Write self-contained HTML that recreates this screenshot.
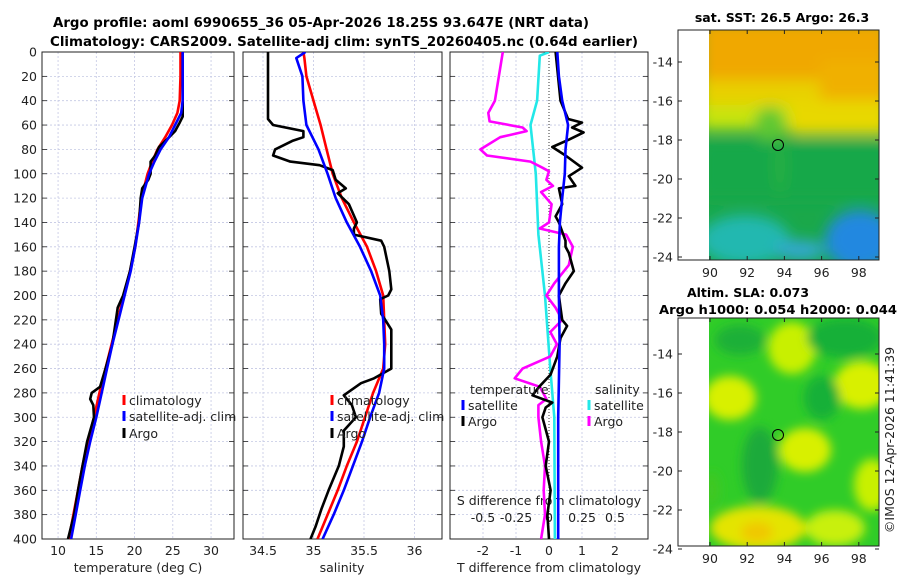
<!DOCTYPE html>
<html><head><meta charset="utf-8"><style>
html,body{margin:0;padding:0;background:#fff;}
svg{display:block;font-family:"DejaVu Sans","Liberation Sans",sans-serif;}
</style></head><body>
<svg id="fig" width="900" height="580" viewBox="0 0 900 580" xmlns="http://www.w3.org/2000/svg">
<defs>
<clipPath id="c1"><rect x="42" y="52" width="192" height="487"/></clipPath>
<clipPath id="c2"><rect x="243" y="52" width="199" height="487"/></clipPath>
<clipPath id="c3"><rect x="450" y="52" width="198" height="487"/></clipPath>
<clipPath id="m1"><rect x="709" y="30" width="170" height="230"/></clipPath>
<clipPath id="m2"><rect x="709" y="318" width="170" height="228"/></clipPath>
<filter id="bl" x="-50%" y="-50%" width="200%" height="200%"><feGaussianBlur stdDeviation="7"/></filter>
<filter id="bl2" x="-50%" y="-50%" width="200%" height="200%"><feGaussianBlur stdDeviation="5"/></filter>
</defs>
<text x="321" y="27" font-size="13" font-weight="bold" text-anchor="middle" textLength="536" lengthAdjust="spacingAndGlyphs">Argo profile: aoml 6990655_36 05-Apr-2026 18.25S 93.647E (NRT data)</text>
<text x="344" y="46" font-size="13" font-weight="bold" text-anchor="middle" textLength="588" lengthAdjust="spacingAndGlyphs">Climatology: CARS2009. Satellite-adj clim: synTS_20260405.nc (0.64d earlier)</text>

<g id="maps">
<g>
<rect x="678" y="30" width="201" height="230" fill="#fff"/>
<g clip-path="url(#m1)">
<rect x="709" y="30" width="170" height="230" fill="#1aa84a"/>
<g filter="url(#bl)">
<rect x="700" y="20" width="190" height="65" fill="#f0a800"/>
<rect x="700" y="80" width="190" height="30" fill="#e8d000"/>
<rect x="820" y="60" width="70" height="70" fill="#f0b000"/>
<rect x="700" y="105" width="90" height="25" fill="#c8e410"/>
<rect x="790" y="100" width="100" height="35" fill="#e8d800"/>
<ellipse cx="770" cy="125" rx="16" ry="18" fill="#60c830"/>
<rect x="700" y="140" width="190" height="60" fill="#14a848"/>
<ellipse cx="745" cy="240" rx="45" ry="25" fill="#20b8b0"/>
<ellipse cx="860" cy="240" rx="35" ry="30" fill="#2088e0"/>
<ellipse cx="800" cy="250" rx="25" ry="10" fill="#30a8d0"/>
<ellipse cx="780" cy="165" rx="6" ry="30" fill="#28b040"/>
</g>
</g>
<rect x="678" y="30" width="201" height="230" fill="none" stroke="#222" stroke-width="1"/>
<circle cx="778" cy="145" r="5.5" fill="none" stroke="#000" stroke-width="1"/>
</g>
<g>
<rect x="678" y="318" width="201" height="228" fill="#fff"/>
<g clip-path="url(#m2)">
<rect x="709" y="318" width="170" height="228" fill="#30cc28"/>
<g filter="url(#bl2)">
<ellipse cx="792" cy="348" rx="24" ry="26" fill="#c8f000"/>
<ellipse cx="730" cy="398" rx="26" ry="22" fill="#d8f000"/>
<ellipse cx="862" cy="385" rx="28" ry="24" fill="#d8f000"/>
<ellipse cx="805" cy="450" rx="26" ry="22" fill="#d8f000"/>
<ellipse cx="872" cy="485" rx="18" ry="26" fill="#c8f000"/>
<ellipse cx="758" cy="528" rx="48" ry="22" fill="#e4e400"/>
<ellipse cx="835" cy="528" rx="30" ry="18" fill="#c8f010"/>
<ellipse cx="757" cy="532" rx="16" ry="10" fill="#f0c800"/>
<ellipse cx="845" cy="338" rx="38" ry="20" fill="#14b038"/>
<ellipse cx="760" cy="465" rx="18" ry="38" fill="#1aaa3a"/>
<ellipse cx="822" cy="398" rx="18" ry="22" fill="#18b038"/>
<ellipse cx="740" cy="340" rx="25" ry="15" fill="#1cb038"/>
<ellipse cx="712" cy="490" rx="8" ry="18" fill="#40c820"/>
</g>
</g>
<rect x="678" y="318" width="201" height="228" fill="none" stroke="#222" stroke-width="1"/>
<circle cx="778" cy="435" r="5.5" fill="none" stroke="#000" stroke-width="1"/>
</g>
<text x="782" y="22" font-size="12.5" font-weight="bold" text-anchor="middle">sat. SST: 26.5 Argo: 26.3</text>
<text x="748" y="297" font-size="12.5" font-weight="bold" text-anchor="middle">Altim. SLA: 0.073</text>
<text x="778" y="314" font-size="12.5" font-weight="bold" text-anchor="middle" textLength="238" lengthAdjust="spacingAndGlyphs">Argo h1000: 0.054 h2000: 0.044</text>
<text transform="translate(894,440) rotate(-90)" font-size="12.5" text-anchor="middle" fill="#222">©IMOS 12-Apr-2026 11:41:39</text>
</g>
<g id="dyn"></g>
</svg>
<script>
// ---------- data ----------
const depthTicks = [0,20,40,60,80,100,120,140,160,180,200,220,240,260,280,300,320,340,360,380,400];
const tempTicks = [10,15,20,25,30];
const salTicks = [34.5,35,35.5,36];
const tdiffTicks = [-2,-1,0,1,2];
const sdiffTickLabels = ["-0.5","-0.25","0","0.25","0.5"];
const sdiffTicks = [-0.5,-0.25,0,0.25,0.5];
const latTicks = [-14,-16,-18,-20,-22,-24];
const lonTicks = [90,92,94,96,98];

const climDepth = [0,20,40,50,60,70,80,90,100,120,140,160,180,200,220,240,260,280,300,320,340,360,380,400];
const climTemp  = [26.0,26.0,25.9,25.6,24.9,24.0,23.0,22.3,21.7,20.9,20.5,20.1,19.4,18.6,17.8,17.0,16.2,15.4,14.7,13.9,13.2,12.6,12.0,11.4];
const satTemp   = [26.3,26.3,26.3,26.1,25.3,24.5,23.4,22.6,21.9,21.0,20.6,20.1,19.5,18.7,17.9,17.1,16.4,15.7,15.0,14.2,13.5,12.9,12.3,11.7];
const argoTDepth = [0,53,58,65,72,78,85,90,100,105,112,120,140,160,180,200,210,240,260,275,280,285,290,300,320,340,360,380,400];
const argoTemp   = [26.3,26.3,25.9,25.3,24.2,23.2,22.7,22.1,22.1,21.8,21.0,20.8,20.6,20.0,19.4,18.5,17.8,17.1,16.2,15.5,14.4,14.2,14.6,14.7,13.8,13.2,12.6,12.1,11.3];

const salDepth = [0,5,20,40,60,80,100,120,140,160,180,200,220,240,260,280,300,320,340,360,380,400];
const climSal  = [34.9,34.91,34.93,35.0,35.07,35.13,35.19,35.28,35.4,35.53,35.62,35.69,35.7,35.71,35.69,35.59,35.51,35.43,35.33,35.24,35.14,35.04];
const satSal   = [34.92,34.83,34.89,34.9,34.93,35.05,35.14,35.22,35.33,35.46,35.57,35.66,35.69,35.7,35.7,35.65,35.56,35.48,35.39,35.3,35.2,35.09];
const argoSDepth = [0,55,60,65,70,73,80,85,90,93,97,105,112,116,125,140,145,150,155,160,180,195,200,203,215,220,228,260,268,272,282,290,300,311,324,340,360,375,390,400];
const argoSal    = [34.55,34.55,34.6,34.9,34.9,34.79,34.62,34.6,34.77,35.06,35.19,35.22,35.32,35.24,35.35,35.43,35.4,35.4,35.67,35.7,35.75,35.77,35.74,35.66,35.67,35.71,35.77,35.77,35.6,35.47,35.3,35.38,35.42,35.3,35.3,35.25,35.15,35.08,35.02,34.97];

const diffDepth = [0,20,40,60,80,100,120,140,160,200,240,300,400];
const satTdiff  = [0.25,0.3,0.4,0.58,0.5,0.48,0.4,0.33,0.3,0.3,0.32,0.28,0.28];
const satSdiffDepth = [0,3,40,60,100,150,200,260,300,400];
const satSdiff  = [0.0,-0.07,-0.09,-0.14,-0.1,-0.08,-0.03,0.01,0.04,0.045];
const argoTdiffDepth = [0,40,55,58,62,66,72,78,85,95,102,110,112,125,135,140,155,160,165,180,190,200,210,220,225,235,250,265,275,282,288,292,300,320,340,360,380,400];
const argoTdiff = [0.2,0.35,0.58,1.0,0.7,1.05,0.6,0.1,0.5,1.0,0.6,0.8,0.3,0.4,0.2,0.3,0.5,0.5,0.6,0.75,0.5,0.3,0.35,0.4,0.55,0.35,0.25,0.05,-0.3,-0.5,0.1,-0.1,-0.2,0.0,-0.1,0.05,-0.05,0.0];
const argoSdiffDepth = [0,40,50,57,62,65,70,80,85,90,95,98,105,110,115,125,140,145,150,160,175,190,200,210,220,230,240,250,260,268,275,285,290,300,320,340,360,380,400];
const argoSdiff = [-0.35,-0.41,-0.46,-0.45,-0.2,-0.17,-0.37,-0.52,-0.47,-0.14,-0.05,0.0,-0.02,0.03,-0.06,0.02,0.0,-0.07,0.13,0.18,0.15,0.04,-0.02,0.05,0.1,0.01,0.06,0.01,-0.2,-0.26,-0.07,-0.02,-0.08,-0.08,-0.06,-0.03,-0.04,-0.03,-0.06];

// ---------- axes ----------
const Y0=52, Y1=539;
const yD = d => Y0 + d/400*(Y1-Y0);
const xT = t => 42 + (t-7.9)/(33-7.9)*192;
const xS = s => 263 + (s-34.5)*101;
const xTd = v => 549 + v*33;
const xSd = v => 549 + v*132;
const mapX = lon => 710 + (lon-90)*18.6;
const map1Y = lat => 62 + (-14-lat)*19.5;
const map2Y = lat => 354 + (-14-lat)*19.5;

const NS="http://www.w3.org/2000/svg";
const root=document.getElementById('dyn');
function mk(tag, attrs, parent){const e=document.createElementNS(NS,tag);for(const k in attrs)e.setAttribute(k,attrs[k]);(parent||root).appendChild(e);return e;}
function txt(s,x,y,size,anchor,parent){const e=mk('text',{x:x,y:y,'font-size':size,'text-anchor':anchor||'middle',fill:'#222'},parent);e.textContent=s;return e;}

const panels=[{x0:42,x1:234,clip:'c1',name:'temperature-panel'},{x0:243,x1:442,clip:'c2',name:'salinity-panel'},{x0:450,x1:648,clip:'c3',name:'difference-panel'}];
const vgrids=[tempTicks.map(xT),salTicks.map(xS),tdiffTicks.filter(v=>v!==0).map(xTd)];
panels.forEach((p,i)=>{
  const g=mk('g',{});
  
  
  depthTicks.forEach(d=>{ if(d>0&&d<400) mk('line',{x1:p.x0,x2:p.x1,y1:yD(d),y2:yD(d),stroke:'#c4c8e4','stroke-width':0.8,'stroke-dasharray':'2,2'},g);
    mk('line',{x1:p.x0,x2:p.x0+5,y1:yD(d),y2:yD(d),stroke:'#222','stroke-width':0.8},g);
    mk('line',{x1:p.x1-5,x2:p.x1,y1:yD(d),y2:yD(d),stroke:'#222','stroke-width':0.8},g);});
  vgrids[i].forEach(x=>{mk('line',{x1:x,x2:x,y1:Y0,y2:Y1,stroke:'#c4c8e4','stroke-width':0.8,'stroke-dasharray':'2,2'},g);});
  mk('rect',{x:p.x0,y:Y0,width:p.x1-p.x0,height:Y1-Y0,fill:'none',stroke:'#222','stroke-width':1},g);
  p.g=g;
});
depthTicks.forEach(d=>{const t=txt(String(d),37,yD(d)+4.5,12.5,'end');
  
  });
tempTicks.forEach(v=>{const t=txt(String(v),xT(v),555,12.5);
  
  });
salTicks.forEach(v=>{const t=txt(String(v),xS(v),555,12.5);
  
  });
tdiffTicks.forEach(v=>{const t=txt(String(v),xTd(v),555,12.5);
  
  });
sdiffTicks.forEach((v,i)=>{const t=txt(sdiffTickLabels[i],xSd(v),522,12.5);
  
  });
let t;
t=txt('temperature (deg C)',138,572,12.5);


t=txt('salinity',342,572,12.5);


t=txt('T difference from climatology',549,572,12.5);


t=txt('S difference from climatology',549,505,12.5);



const z=mk('line',{x1:xTd(0),x2:xTd(0),y1:Y0,y2:Y1,stroke:'#333','stroke-width':1,'stroke-dasharray':'1,2'},panels[2].g);



function series(depths, vals, xf, color, clip, name){
  const pts=depths.map((d,i)=>xf(vals[i]).toFixed(1)+','+yD(d).toFixed(1)).join(' ');
  const e=mk('polyline',{points:pts,fill:'none',stroke:color,'stroke-width':2.6,'stroke-linejoin':'round','clip-path':'url(#'+clip+')'});
  
  
}
series(climDepth,climTemp,xT,'#f00','c1','climatology-temperature-line');
series(argoTDepth,argoTemp,xT,'#000','c1','argo-temperature-line');
series(climDepth,satTemp,xT,'#00f','c1','satellite-temperature-line');
series(salDepth,climSal,xS,'#f00','c2','climatology-salinity-line');
series(argoSDepth,argoSal,xS,'#000','c2','argo-salinity-line');
series(salDepth,satSal,xS,'#00f','c2','satellite-salinity-line');
series(satSdiffDepth,satSdiff,xSd,'#22e8e8','c3','satellite-s-diff-line');
series(argoSdiffDepth,argoSdiff,xSd,'#f0f','c3','argo-s-diff-line');
series(argoTdiffDepth,argoTdiff,xTd,'#000','c3','argo-t-diff-line');
series(diffDepth,satTdiff,xTd,'#00f','c3','satellite-t-diff-line');

function legend(x,y,color,label,name){
  const g=mk('g',{});
  
  
  mk('rect',{x:x-1.5,y:y-10,width:3,height:10,fill:color},g);
  txt(label,x+5,y,12.5,'start',g);
}
legend(124,405,'#f00','climatology','legend-climatology');
legend(124,421,'#00f','satellite-adj. clim','legend-satellite-adj');
legend(124,438,'#000','Argo','legend-argo');
legend(332,405,'#f00','climatology','legend-climatology-sal');
legend(332,421,'#00f','satellite-adj. clim','legend-satellite-adj-sal');
legend(332,438,'#000','Argo','legend-argo-sal');
t=txt('temperature',470,394,12.5,'start');


t=txt('salinity',595,394,12.5,'start');


legend(463,410,'#00f','satellite','legend-t-satellite');
legend(463,426,'#000','Argo','legend-t-argo');
legend(589,410,'#22e8e8','satellite','legend-s-satellite');
legend(589,426,'#f0f','Argo','legend-s-argo');

[[map1Y,262],[map2Y,548]].forEach(([fy,by],mi)=>{
  latTicks.forEach(l=>{const y=fy(l);
    mk('line',{x1:678,x2:682,y1:y,y2:y,stroke:'#222'});mk('line',{x1:875,x2:879,y1:y,y2:y,stroke:'#222'});
    const tt=txt(String(l),673,y+4.5,12.5,'end');
    
    });
  lonTicks.forEach(l=>{const x=mapX(l);const top=mi?318:30;
    mk('line',{x1:x,x2:x,y1:by-2,y2:by-6,stroke:'#222'});mk('line',{x1:x,x2:x,y1:top,y2:top+4,stroke:'#222'});
    const tt=txt(String(l),x,by+15,12.5);
    
    });
});
</script>
</body></html>
